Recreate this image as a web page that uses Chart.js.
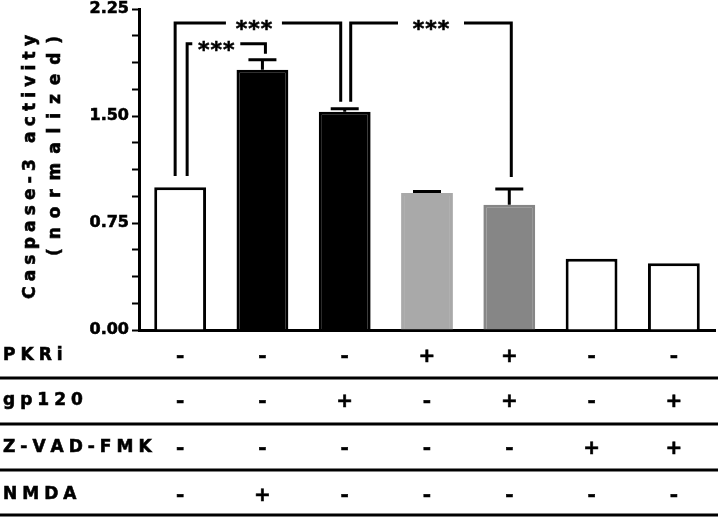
<!DOCTYPE html>
<html>
<head>
<meta charset="utf-8">
<script src="https://cdn.jsdelivr.net/npm/chart.js@4.4.0/dist/chart.umd.min.js"></script>
<style>
  html, body { margin: 0; padding: 0; background: #fff; }
  #wrap { width: 720px; height: 519px; position: relative; }
</style>
</head>
<body>
<div id="wrap"><canvas id="caspase-chart"></canvas></div>
<script>
// Bars, left to right
const groups = ['control', 'NMDA', 'gp120', 'PKRi', 'PKRi + gp120', 'Z-VAD-FMK', 'Z-VAD-FMK + gp120'];
const activity = [1.00, 1.825, 1.53, 0.96, 0.878, 0.50, 0.467];
const sem = [0, 0.07, 0.02, 0.01, 0.11, 0, 0];
const barFills = ['#ffffff', '#000000', '#000000', '#a9a9a9', '#868686', '#ffffff', '#ffffff'];
const barEdges = ['#000000', '#000000', '#000000', '#a9a9a9', '#868686', '#000000', '#000000'];
const yLabelTicks = [0, 0.75, 1.5, 2.25];

// Treatment table under the bars
const rowLabels = ['PKRi', 'gp120', 'Z-VAD-FMK', 'NMDA'];
const pkri = ['-', '-', '-', '+', '+', '-', '-'];
const gp120 = ['-', '-', '+', '-', '+', '-', '+'];
const zvad = ['-', '-', '-', '-', '-', '+', '+'];
const nmda = ['-', '+', '-', '-', '-', '-', '-'];
const tableRows = [pkri, gp120, zvad, nmda];

// Significance brackets (bar index pairs, bracket height, where each leg stops)
const sigPairs = [[0, 2], [0, 1], [2, 4]];
const sigHeights = [2.152, 2.006, 2.152];
const sigLegEnds = [[1.08, 1.60], [1.08, 1.936], [1.60, 1.073]];
const sigLabels = ['***', '***', '***'];

const FONT = '"DejaVu Sans", Verdana, sans-serif';

/**
 * Width of text drawn with extra spacing between characters
 */
function spacedWidth(ctx, text, spacing) {
  let w = 0;
  for (const ch of text) w += ctx.measureText(ch).width;
  return w + spacing * (text.length - 1);
}

/**
 * Draw text one character at a time with extra spacing, starting at x.
 * A thin stroke makes it as heavy as the scanned figure.
 */
function drawSpaced(ctx, text, x, y, spacing) {
  let cx = x;
  for (const ch of text) {
    ctx.fillText(ch, cx, y);
    ctx.strokeText(ch, cx, y);
    cx += ctx.measureText(ch).width + spacing;
  }
}

// Error bars (upper only) on top of each bar
const errorBars = {
  id: 'errorBars',
  afterDatasetsDraw(chart) {
    const ctx = chart.ctx;
    const y = chart.scales.y;
    const meta = chart.getDatasetMeta(0);
    ctx.save();
    ctx.strokeStyle = '#000';
    ctx.lineWidth = 3;
    meta.data.forEach((bar, i) => {
      if (!sem[i]) return;
      const top = y.getPixelForValue(activity[i] + sem[i]);
      const base = y.getPixelForValue(activity[i]);
      ctx.beginPath();
      ctx.moveTo(bar.x, base);
      ctx.lineTo(bar.x, top);
      ctx.moveTo(bar.x - 14, top);
      ctx.lineTo(bar.x + 14, top);
      ctx.stroke();
    });
    ctx.restore();
  }
};

// Brackets with *** between compared groups
const sigBrackets = {
  id: 'sigBrackets',
  afterDraw(chart) {
    const ctx = chart.ctx;
    const x = chart.scales.x;
    const y = chart.scales.y;
    // pixel nudges of each leg from the bar centre, and half-gap left for the stars
    const legNudge = [[-5, -4], [7, 3], [6, 2]];
    const halfGap = [28, 24, 33];
    const starShift = [-4, -10, 0];
    const geom = sigPairs.map((pair, k) => {
      const x1 = x.getPixelForValue(pair[0]) + legNudge[k][0];
      const x2 = x.getPixelForValue(pair[1]) + legNudge[k][1];
      return { x1, x2, yt: y.getPixelForValue(sigHeights[k]), mid: (x1 + x2) / 2 + starShift[k] };
    });

    ctx.save();
    ctx.strokeStyle = '#000';
    ctx.fillStyle = '#000';
    ctx.lineWidth = 3;
    geom.forEach(({ x1, x2, yt, mid }, k) => {
      ctx.beginPath();
      ctx.moveTo(x1, y.getPixelForValue(sigLegEnds[k][0]));
      ctx.lineTo(x1, yt);
      ctx.lineTo(mid - halfGap[k], yt);
      ctx.moveTo(mid + halfGap[k], yt);
      ctx.lineTo(x2, yt);
      ctx.lineTo(x2, y.getPixelForValue(sigLegEnds[k][1]));
      ctx.stroke();
    });

    ctx.font = 'bold 22px ' + FONT;
    ctx.textBaseline = 'middle';
    ctx.lineWidth = 0.6;
    geom.forEach(({ yt, mid }, k) => {
      const w = spacedWidth(ctx, sigLabels[k], 1);
      drawSpaced(ctx, sigLabels[k], mid - w / 2, yt + 7, 1);
    });
    ctx.restore();
  }
};

// Y axis title and the +/- treatment table
const extras = {
  id: 'extras',
  afterDraw(chart) {
    const ctx = chart.ctx;
    const x = chart.scales.x;
    ctx.save();
    ctx.fillStyle = '#000';
    ctx.strokeStyle = '#000';
    ctx.lineWidth = 0.6;
    ctx.font = 'bold 17px ' + FONT;
    ctx.textBaseline = 'middle';

    // rotated axis title, two lines stretched to their widths in the figure
    const titleLines = [['Caspase-3 activity', 31, 167, 264], ['(normalized)', 56, 146, 220]];
    titleLines.forEach(([text, cx, cy, target]) => {
      ctx.save();
      ctx.translate(cx, cy);
      ctx.rotate(-Math.PI / 2);
      const sp = (target - spacedWidth(ctx, text, 0)) / (text.length - 1);
      drawSpaced(ctx, text, -target / 2, 0, sp);
      ctx.restore();
    });

    // table rows
    const rowY = [356, 401, 448, 495];
    const lineY = [378, 424, 470, 515];
    rowLabels.forEach((label, r) => {
      ctx.font = 'bold 17px ' + FONT;
      ctx.textAlign = 'left';
      drawSpaced(ctx, label, 3, rowY[r], 5);
      ctx.font = 'bold 20px ' + FONT;
      ctx.textAlign = 'center';
      tableRows[r].forEach((sign, i) => {
        ctx.fillText(sign, x.getPixelForValue(i), rowY[r] + 1);
        ctx.strokeText(sign, x.getPixelForValue(i), rowY[r] + 1);
      });
    });

    ctx.lineWidth = 3;
    lineY.forEach(ly => {
      ctx.beginPath();
      ctx.moveTo(0, ly);
      ctx.lineTo(718, ly);
      ctx.stroke();
    });
    ctx.restore();
  }
};

function setupChart() {
  const ctx = document.getElementById('caspase-chart');
  return new Chart(ctx, {
    type: 'bar',
    data: {
      labels: groups,
      datasets: [{
        data: activity,
        backgroundColor: barFills,
        borderColor: barEdges,
        borderWidth: 3,
        borderSkipped: 'start',
        barPercentage: 0.63,
        categoryPercentage: 1.0
      }]
    },
    options: {
      responsive: true,
      maintainAspectRatio: false,
      animation: false,
      layout: {
        padding: { top: 0, right: 5, bottom: 189, left: 0 }
      },
      plugins: {
        legend: { display: false },
        tooltip: { enabled: false }
      },
      scales: {
        x: {
          offset: true,
          afterFit: scale => { scale.height = 0; },
          grid: { display: false },
          ticks: { display: false },
          border: { display: true, color: '#000', width: 3 }
        },
        y: {
          min: 0,
          max: 2.25,
          afterFit: scale => { scale.width = 139; },
          ticks: {
            stepSize: 0.1875,
            autoSkip: false,
            color: '#000',
            padding: 3,
            textStrokeColor: '#000',
            textStrokeWidth: 0.6,
            font: { family: FONT, size: 16, weight: 'bold', lineHeight: 0.75 },
            callback: value => yLabelTicks.some(t => Math.abs(t - value) < 1e-6) ? value.toFixed(2) : ''
          },
          grid: {
            drawOnChartArea: false,
            drawTicks: true,
            tickLength: 7,
            tickWidth: 2,
            tickColor: '#000'
          },
          border: { display: true, color: '#000', width: 3 }
        }
      }
    },
    plugins: [errorBars, sigBrackets, extras]
  });
}

setupChart();
</script>
</body>
</html>
